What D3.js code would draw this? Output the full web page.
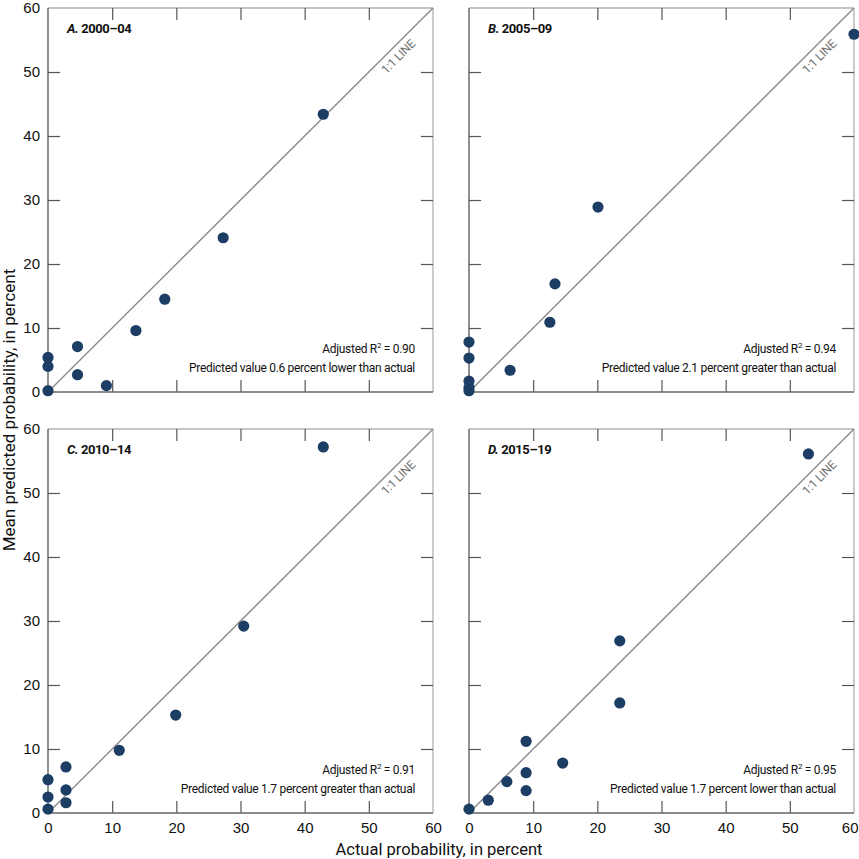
<!DOCTYPE html>
<html>
<head>
<meta charset="utf-8">
<script src="https://cdn.jsdelivr.net/npm/d3@7"></script>
<style>
  html, body { margin: 0; padding: 0; background: #fff; }
  svg { display: block; font-family: "Liberation Sans Narrow", "Arial Narrow", "Roboto", sans-serif; }
</style>
</head>
<body>
<svg id="chart" width="859" height="859"></svg>
<script>
// ---- Data ----
const panelLetters = ["A.", "B.", "C.", "D."];
const panelPeriods = ["2000–04", "2005–09", "2010–14", "2015–19"];
const r2Labels = ["0.90", "0.94", "0.91", "0.95"];
const diffLabels = [
  "Predicted value 0.6 percent lower than actual",
  "Predicted value 2.1 percent greater than actual",
  "Predicted value 1.7 percent greater than actual",
  "Predicted value 1.7 percent lower than actual"
];
const actualA =    [0,   0,   0,   4.6, 4.6, 9.1, 13.7, 18.2, 27.3, 42.9];
const predictedA = [5.4, 4.0, 0.2, 7.1, 2.7, 1.0, 9.6,  14.5, 24.1, 43.4];
const actualB =    [0,   0,   0,   0,   0,   6.4, 12.6, 13.4, 20.1, 60];
const predictedB = [7.8, 5.3, 1.7, 0.7, 0.2, 3.4, 10.9, 16.9, 28.9, 55.9];
const actualC =    [0,   0,   0,   2.8, 2.8, 2.8, 11.1, 19.9, 30.5, 42.9];
const predictedC = [5.2, 2.5, 0.6, 7.2, 3.6, 1.6, 9.8,  15.3, 29.2, 57.2];
const actualD =    [0,   3.0, 5.9, 8.9,  8.9, 8.9, 14.6, 23.5, 23.5, 52.9];
const predictedD = [0.6, 2.0, 4.9, 11.2, 6.3, 3.5, 7.8,  26.9, 17.2, 56.1];
const tickValues = [0, 10, 20, 30, 40, 50, 60];
const xTitle = "Actual probability, in percent";
const yTitle = "Mean predicted probability, in percent";

const actuals = [actualA, actualB, actualC, actualD];
const predicteds = [predictedA, predictedB, predictedC, predictedD];

// ---- Layout ----
const svg = d3.select("#chart");
const panelW = 385, panelH = 384;
const lefts = [48, 469], tops = [8, 429];
const dotColor = "#1d3e64";
const lineGray = "#8a8a8a";

for (let i = 0; i < 4; i++) {
  const col = i % 2, row = Math.floor(i / 2);
  const g = svg.append("g").attr("transform", `translate(${lefts[col]},${tops[row]})`);
  const x = d3.scaleLinear().domain([0, 60]).range([0, panelW]);
  const y = d3.scaleLinear().domain([0, 60]).range([panelH, 0]);

  // frame
  g.append("line").attr("x1", 0).attr("x2", panelW).attr("y1", 0).attr("y2", 0).attr("stroke", "#8c8c8c").attr("stroke-width", 1.2);
  g.append("line").attr("x1", panelW).attr("x2", panelW).attr("y1", 0).attr("y2", panelH).attr("stroke", "#a8a8a8").attr("stroke-width", 1.2);

  const inner = tickValues.filter(v => v > 0 && v < 60);
  // axes
  const axB = g.append("g").attr("transform", `translate(0,${panelH})`)
    .call(d3.axisBottom(x).tickValues(tickValues).tickSize(-12).tickPadding(9)
      .tickFormat(row === 1 ? d3.format("d") : () => ""));
  const axT = g.append("g").call(d3.axisTop(x).tickValues(inner).tickSize(-12).tickFormat(() => ""));
  const axL = g.append("g")
    .call(d3.axisLeft(y).tickValues(tickValues).tickSize(-12).tickPadding(8)
      .tickFormat(col === 0 ? d3.format("d") : () => ""));
  const axR = g.append("g").attr("transform", `translate(${panelW},0)`)
    .call(d3.axisRight(y).tickValues(inner).tickSize(-12).tickFormat(() => ""));

  [axB, axT, axL, axR].forEach(a => {
    a.select(".domain").remove();
    a.selectAll(".tick line").attr("stroke", "#555").attr("stroke-width", 1.2);
    a.selectAll(".tick").filter(d => d === 0 || d === 60).select("line").remove();
    a.selectAll("text").attr("font-size", 15).attr("fill", "#111").attr("font-family", null);
  });
  if (col === 1 && row === 1) {
    axB.selectAll(".tick").filter(d => d === 60).select("text").attr("text-anchor", "end").attr("dx", 4);
  }
  g.append("line").attr("x1", 0).attr("x2", 0).attr("y1", 0).attr("y2", panelH).attr("stroke", "#555").attr("stroke-width", 1.3);
  g.append("line").attr("x1", 0).attr("x2", panelW).attr("y1", panelH).attr("y2", panelH).attr("stroke", "#666").attr("stroke-width", 1.3);

  // 1:1 line
  g.append("line")
    .attr("x1", x(0)).attr("y1", y(0)).attr("x2", x(60)).attr("y2", y(60))
    .attr("stroke", lineGray).attr("stroke-width", 1.4);
  const angle = Math.atan2(y(60) - y(0), x(60) - x(0)) * 180 / Math.PI;
  g.append("text")
    .attr("transform", `translate(${x(53.5)},${y(53.5)}) rotate(${angle})`)
    .attr("x", 0).attr("y", 14)
    .attr("text-anchor", "middle")
    .attr("font-size", 12)
    .attr("letter-spacing", -0.3)
    .attr("fill", "#707070")
    .text("1:1 LINE");

  // panel title
  const t = g.append("text").attr("x", 19).attr("y", 25).attr("font-size", 13).attr("font-weight", "bold")
    .attr("letter-spacing", -0.4).attr("fill", "#111");
  t.append("tspan").attr("font-style", "italic").text(panelLetters[i]);
  t.append("tspan").text(" " + panelPeriods[i]);

  // annotations
  const r2 = g.append("text").attr("x", 367).attr("y", panelH - 39).attr("text-anchor", "end").attr("font-size", 12)
    .attr("letter-spacing", -0.3).attr("fill", "#111");
  r2.append("tspan").text("Adjusted R");
  r2.append("tspan").attr("dy", -5).attr("font-size", 8).text("2");
  r2.append("tspan").attr("dy", 5).text(" = " + r2Labels[i]);
  g.append("text").attr("x", 367).attr("y", panelH - 20).attr("text-anchor", "end").attr("font-size", 12)
    .attr("letter-spacing", -0.3).attr("fill", "#111")
    .text(diffLabels[i]);

  // points
  const pts = actuals[i].map((a, k) => ({ a, p: predicteds[i][k] }));
  g.selectAll("circle").data(pts).enter().append("circle")
    .attr("cx", d => x(d.a)).attr("cy", d => y(d.p)).attr("r", 5.6)
    .attr("fill", dotColor);
}

// axis titles
svg.append("text").attr("x", 439).attr("y", 855).attr("text-anchor", "middle").attr("font-size", 16.5).attr("fill", "#111").text(xTitle);
svg.append("text").attr("transform", "translate(15,410) rotate(-90)").attr("text-anchor", "middle").attr("font-size", 17).attr("fill", "#111").text(yTitle);
</script>
</body>
</html>
